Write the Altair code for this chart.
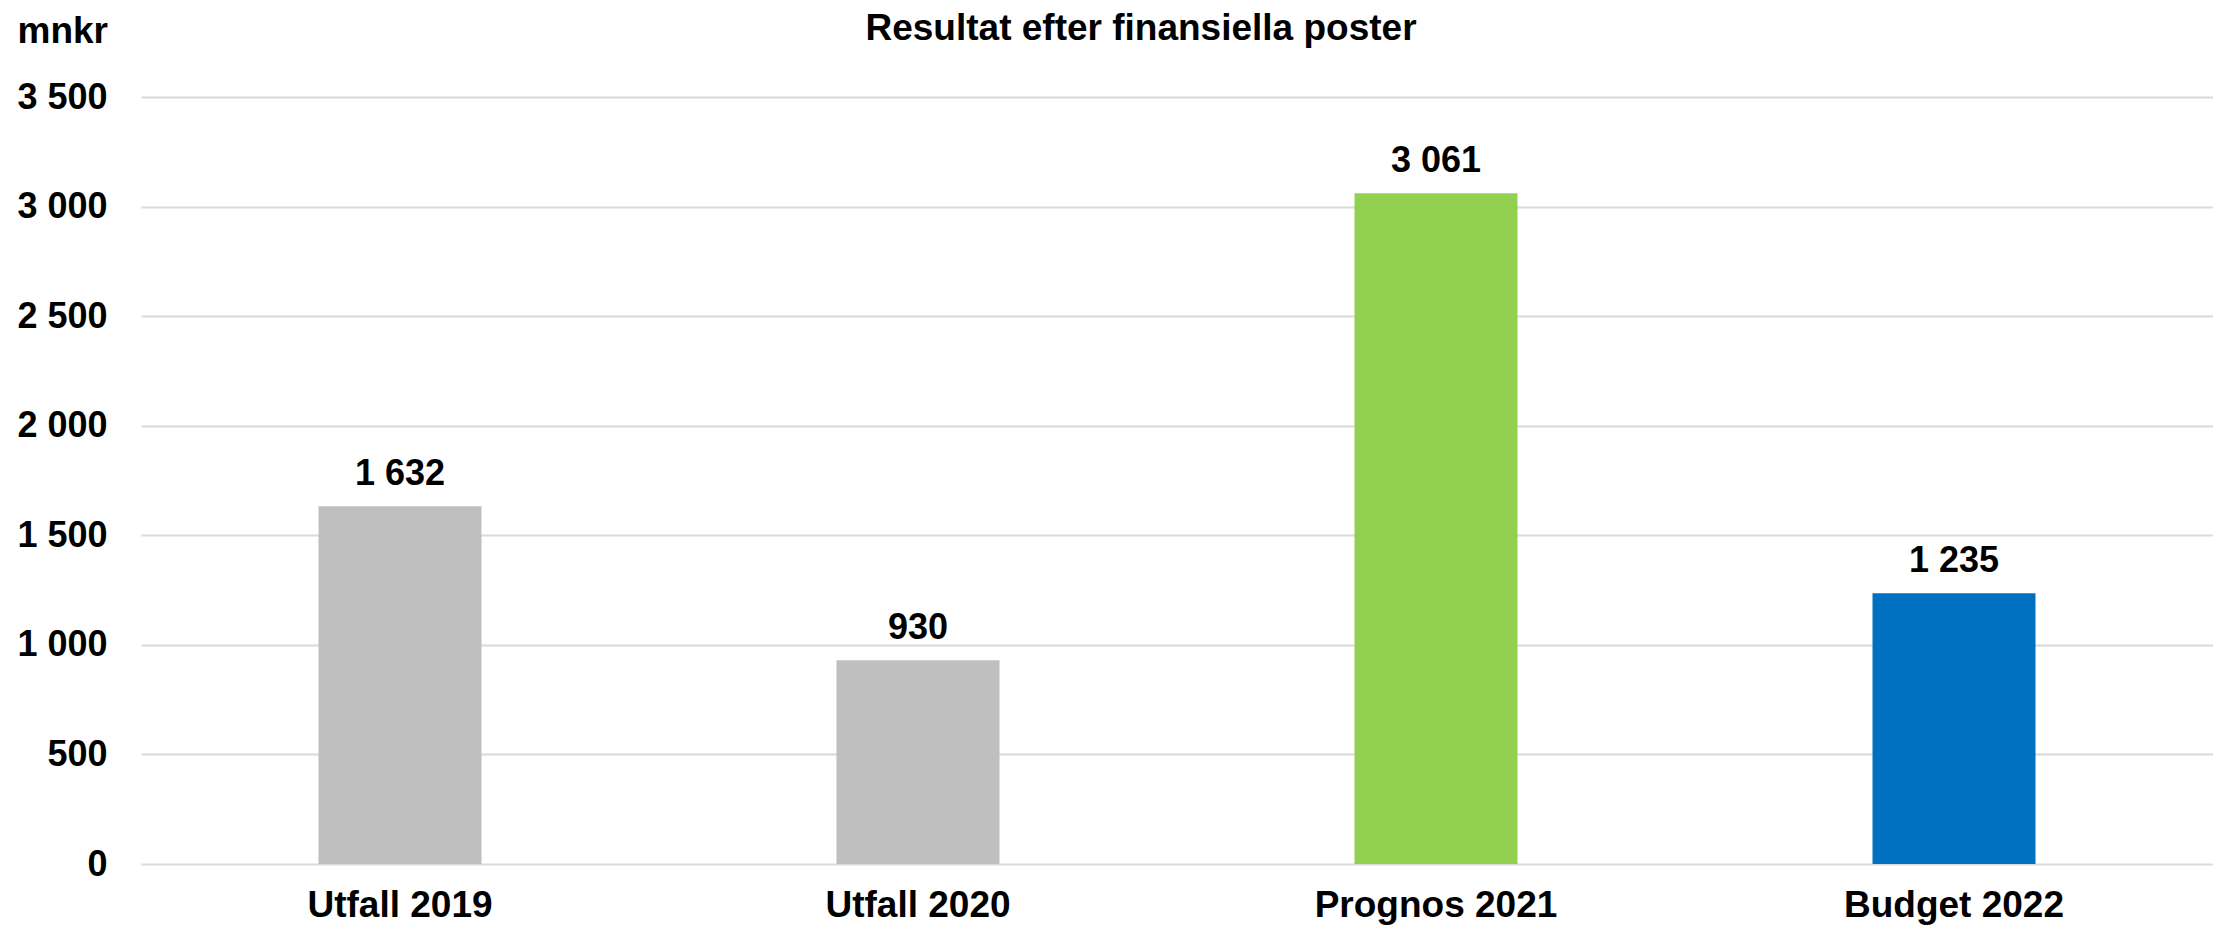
import altair as alt
import pandas as pd

categories = ["Utfall 2019", "Utfall 2020", "Prognos 2021", "Budget 2022"]
values = [1632, 930, 3061, 1235]
bar_colors = ["#bfbfbf", "#bfbfbf", "#92d050", "#0070c0"]
y_ticks = [0, 500, 1000, 1500, 2000, 2500, 3000, 3500]
chart_title = ["Resultat efter finansiella poster"]

df = pd.DataFrame({"kategori": categories, "värde": values})

FONT = "Liberation Sans"
fmt = "replace(format(datum.value, ','), ',', ' ')"

x_enc = alt.X(
    "kategori:N",
    sort=categories,
    scale=alt.Scale(paddingInner=0.686, paddingOuter=0.343),
    axis=alt.Axis(
        title=None, labelAngle=0, labelFontSize=37, labelFontWeight="bold",
        labelColor="black", labelFont=FONT, ticks=False, tickSize=0,
        domain=False, labelBaseline="alphabetic", labelPadding=52, labelLimit=0,
    ),
)
y_enc = alt.Y(
    "värde:Q",
    scale=alt.Scale(domain=[0, 3500], nice=False),
    axis=alt.Axis(
        values=y_ticks, labelExpr=fmt, labelFontSize=36, labelFontWeight="bold",
        labelColor="black", labelFont=FONT, ticks=False, tickSize=0, domain=False,
        labelPadding=34, labelBaseline="middle", labelLimit=0,
        grid=True, gridColor="#d9d9d9", gridWidth=2,
        title="mnkr", titleAngle=0, titleFontSize=37, titleFontWeight="bold",
        titleFont=FONT, titleColor="black", titleAlign="left",
        titleBaseline="alphabetic", titleX=-124, titleY=-55,
    ),
)

base = alt.Chart(df)

bars = base.mark_bar(size=163).encode(
    x=x_enc,
    y=y_enc,
    color=alt.Color("kategori:N", scale=alt.Scale(domain=categories, range=bar_colors), legend=None),
)

labels = base.transform_calculate(
    label="replace(format(datum['värde'], ','), ',', ' ')"
).mark_text(
    font=FONT, fontSize=36, fontWeight="bold", color="black",
    baseline="alphabetic", dy=-21,
).encode(
    x=alt.X("kategori:N", sort=categories),
    y=alt.Y("värde:Q"),
    text="label:N",
)

title_layer = alt.Chart(pd.DataFrame({"t": chart_title})).mark_text(
    font=FONT, fontSize=37, fontWeight="bold", color="black",
    baseline="alphabetic", align="center",
).encode(
    text="t:N",
    x=alt.value(1000),
    y=alt.value(-57),
)

chart = alt.layer(bars, labels, title_layer).properties(
    width=2072,
    height=767,
    autosize=alt.AutoSizeParams(type="none"),
    padding={"left": 133, "top": 89, "right": 0, "bottom": 62},
).configure_view(stroke=None)

chart.save("out.html", embed_options={"renderer": "svg", "actions": False})
